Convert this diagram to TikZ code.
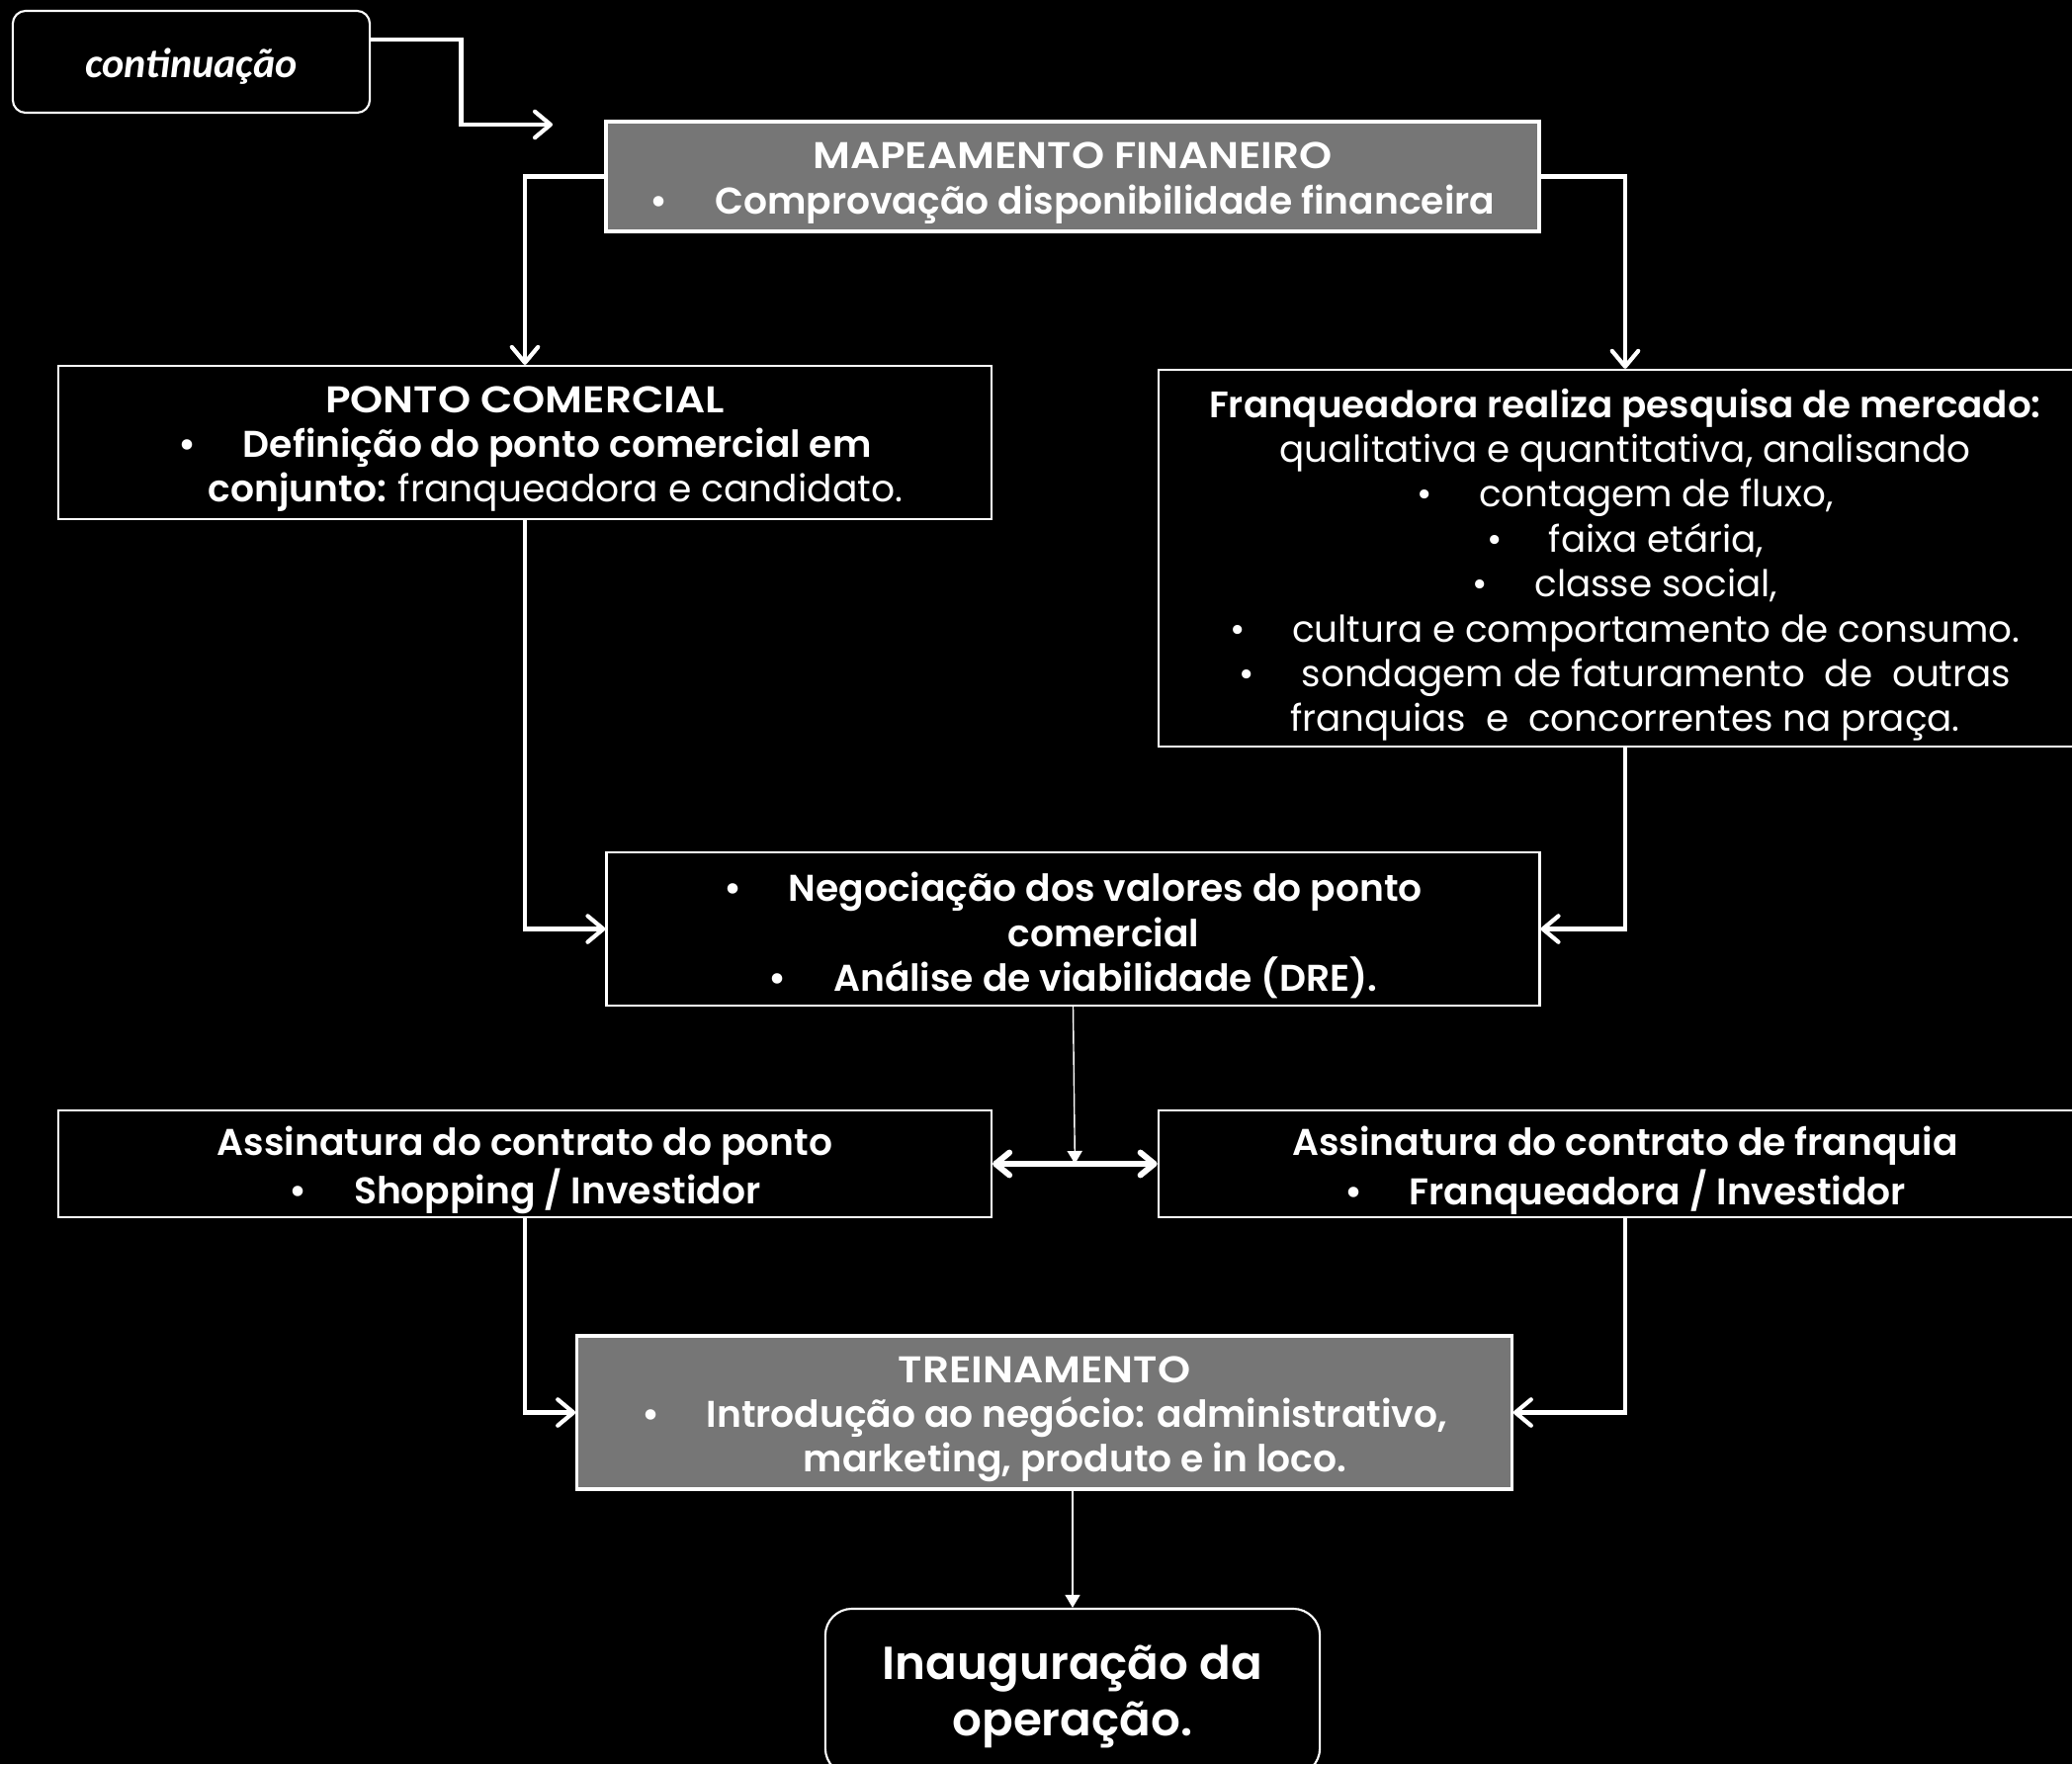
\documentclass[tikz,border=0pt]{standalone}
\usepackage{fontspec}
\setmainfont{Poppins}[BoldFont={Poppins SemiBold}]
\newfontfamily\contfont{Carlito}
\usetikzlibrary{arrows.meta,calc}
\definecolor{boxgray}{RGB}{118,118,118}
\newcommand\bul{\textbullet\hspace{13.5pt}}
\newcommand\capsline[1]{{\addfontfeature{FakeStretch=1.12}#1}}
\begin{document}
\begin{tikzpicture}[x=0.01cm,y=-0.01cm,
  box/.style={draw=white,line width=0.6pt,inner sep=0pt},
  graybox/.style={box,fill=boxgray,line width=0.9pt},
  txt/.style={text=white,align=center,inner sep=0pt,
    font=\fontsize{10.7}{12.9}\selectfont\bfseries},
  conn/.style={draw=white,line width=1.2pt,-{Straight Barb[length=4.5pt,width=7.5pt,round]}},
  dbl/.style={draw=white,line width=1.7pt,{Straight Barb[length=4pt,width=6.5pt,round]}-{Straight Barb[length=4pt,width=6.5pt,round]}},
  thinconn/.style={draw=white,line width=0.4pt,-{Triangle[length=3.7pt,width=4.3pt]}},
]
\fill[black] (0,0) rectangle (2096,1784);
\useasboundingbox (0,0) rectangle (2096,1784);

% boxes
\node[box,rounded corners=0.13cm,minimum width=3.61cm,minimum height=1.03cm] (cont) at (193.5,62.5) {};
\node[graybox,minimum width=9.435cm,minimum height=1.11cm] (map) at (1085,178.5) {};
\node[box,minimum width=9.435cm,minimum height=1.55cm] (ponto) at (531,447.5) {};
\node[box,minimum width=9.44cm,minimum height=3.81cm] (franq) at (1644,564.5) {};
\node[box,minimum width=9.435cm,minimum height=1.55cm] (neg) at (1085.5,939.5) {};
\node[box,minimum width=9.435cm,minimum height=1.08cm] (assp) at (531,1177) {};
\node[box,minimum width=9.44cm,minimum height=1.08cm] (assf) at (1644,1177) {};
\node[graybox,minimum width=9.45cm,minimum height=1.55cm] (trein) at (1056.5,1428.5) {};
\node[box,rounded corners=0.27cm,minimum width=5cm,minimum height=1.68cm] (inaug) at (1085,1711) {};

% texts
\node[txt,font=\contfont\bfseries\itshape\fontsize{12}{14}\selectfont] (contT) at ([yshift=-1.4pt]cont.center) {continuação};

\node[txt] (mapT) at ([yshift=-1.9pt]map.center)
  {\capsline{MAPEAMENTO FINANEIRO}\\ \bul Comprovação disponibilidade financeira};

\node[txt] (pontoT) at ([yshift=-1.9pt]ponto.center)
  {\capsline{PONTO COMERCIAL}\\ \bul Definição do ponto comercial em\\
   \hspace*{17.6pt}conjunto: \mdseries franqueadora e candidato.};

\node[txt,font=\fontsize{10.6}{12.9}\selectfont] (franqT) at ([yshift=-1.9pt]franq.center)
  {\textbf{Franqueadora realiza pesquisa de mercado:}\\
   qualitativa e quantitativa, analisando\\
   \bul contagem de fluxo,\\
   \bul faixa etária,\\
   \bul classe social,\\
   \bul cultura e comportamento de consumo.\\
   \bul sondagem de faturamento\ \ de\ \ outras\\
   franquias\ \ e\ \ concorrentes na praça.};

\node[txt] (negT) at ([yshift=-1.9pt]neg.center)
  {\bul Negociação dos valores do ponto\\
   \hspace*{17.6pt}comercial\\
   \bul Análise de viabilidade (DRE).};

\node[txt] (asspT) at ([yshift=-1.9pt]assp.center)
  {Assinatura do contrato do ponto\\ \bul Shopping / Investidor};

\node[txt] (assfT) at ([yshift=-1.9pt]assf.center)
  {Assinatura do contrato de franquia\\ \bul Franqueadora / Investidor};

\node[txt] (treinT) at ([yshift=-1.9pt]trein.center)
  {\capsline{TREINAMENTO}\\ \bul Introdução ao negócio: administrativo,\\
   \hspace*{17.6pt}marketing, produto e in loco.};

\node[txt,font=\fontsize{13.3}{16.4}\selectfont\bfseries] (inaugT) at ([yshift=-1.4pt]inaug.center)
  {Inauguração da\\ operação.};

% connectors
\coordinate (contout) at (374,40);
\coordinate (contend) at (559,126);
\draw[conn] (contout) -- (466.5,40) |- (contend);
\draw[conn] (map.west) -| (ponto.north);
\draw[conn] (map.east) -| (franq.north);
\draw[conn] (ponto.south) |- (neg.west);
\draw[conn] (franq.south) |- (neg.east);
\draw[dbl] (assp.east) -- (assf.west);
\coordinate (mid) at ($(assp.east)!0.5!(assf.west)$);
\draw[thinconn] (neg.south) -- (mid);
\draw[conn] (assp.south) |- (trein.west);
\draw[conn] (assf.south) |- (trein.east);
\draw[thinconn] (inaug.north |- trein.south) -- (inaug.north);
\end{tikzpicture}
\end{document}
